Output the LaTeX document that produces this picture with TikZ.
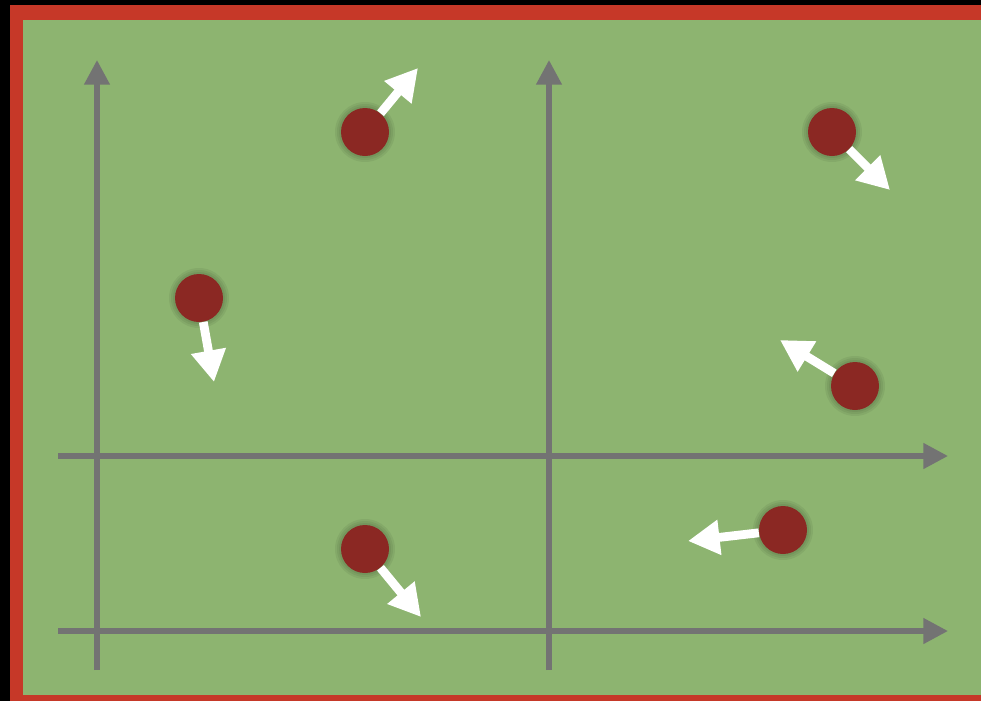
\documentclass[tikz,border=0pt]{standalone}
\usepackage{xcolor}
\usetikzlibrary{positioning,arrows.meta}

\definecolor{fieldgreen}{RGB}{141,180,112}
\definecolor{framered}{RGB}{198,56,40}
\definecolor{dotred}{RGB}{139,40,35}
\definecolor{axisgray}{RGB}{115,115,115}

\begin{document}
\begin{tikzpicture}[
    x=0.02cm, y=-0.02cm,
    dot/.style={circle, fill=dotred, minimum size=48*0.02cm, inner sep=0pt},
    halo/.style={circle, fill=black, opacity=0.06, minimum size=#1*0.02cm, inner sep=0pt},
    axis/.style={-{Triangle[length=14pt, width=14pt]}, line width=3.1pt, draw=axisgray},
    move/.style={-{Triangle[length=18pt, width=19pt]}, line width=5pt, draw=white}
]
% background and frame
\fill[black] (0,0) rectangle (981,701);
\fill[framered] (10,5) rectangle (981,701);
\fill[fieldgreen] (23,20) rectangle (981,695);
\useasboundingbox (0,0) rectangle (981,701);

% axes
\coordinate (v1s) at (97,670);   \coordinate (v1e) at (97,60);
\coordinate (v2s) at (549,670);  \coordinate (v2e) at (549,60);
\coordinate (h1s) at (58,456);   \coordinate (h1e) at (948,456);
\coordinate (h2s) at (58,631);   \coordinate (h2e) at (948,631);
\draw[axis] (v1s) -- (v1e);
\draw[axis] (v2s) -- (v2e);
\draw[axis] (h1s) -- (h1e);
\draw[axis] (h2s) -- (h2e);

% particles, with a soft shadow
\foreach \pos/\name in {{(365,132)}/p1, {(832,132)}/p2, {(199,298)}/p3,
                        {(855,386)}/p4, {(783,530)}/p5, {(365,549)}/p6} {
  \foreach \s in {60,56,52}
    \node[halo=\s] at \pos {};
  \node[dot] (\name) at \pos {};
}

% velocities
\coordinate (t1) at (418,68);
\coordinate (t2) at (890,190);
\coordinate (t3) at (214,382);
\coordinate (t4) at (780,340);
\coordinate (t5) at (688,541);
\coordinate (t6) at (421,617);
\draw[move] (p1) -- (t1);
\draw[move] (p2) -- (t2);
\draw[move] (p3) -- (t3);
\draw[move] (p4) -- (t4);
\draw[move] (p5) -- (t5);
\draw[move] (p6) -- (t6);
\end{tikzpicture}
\end{document}
